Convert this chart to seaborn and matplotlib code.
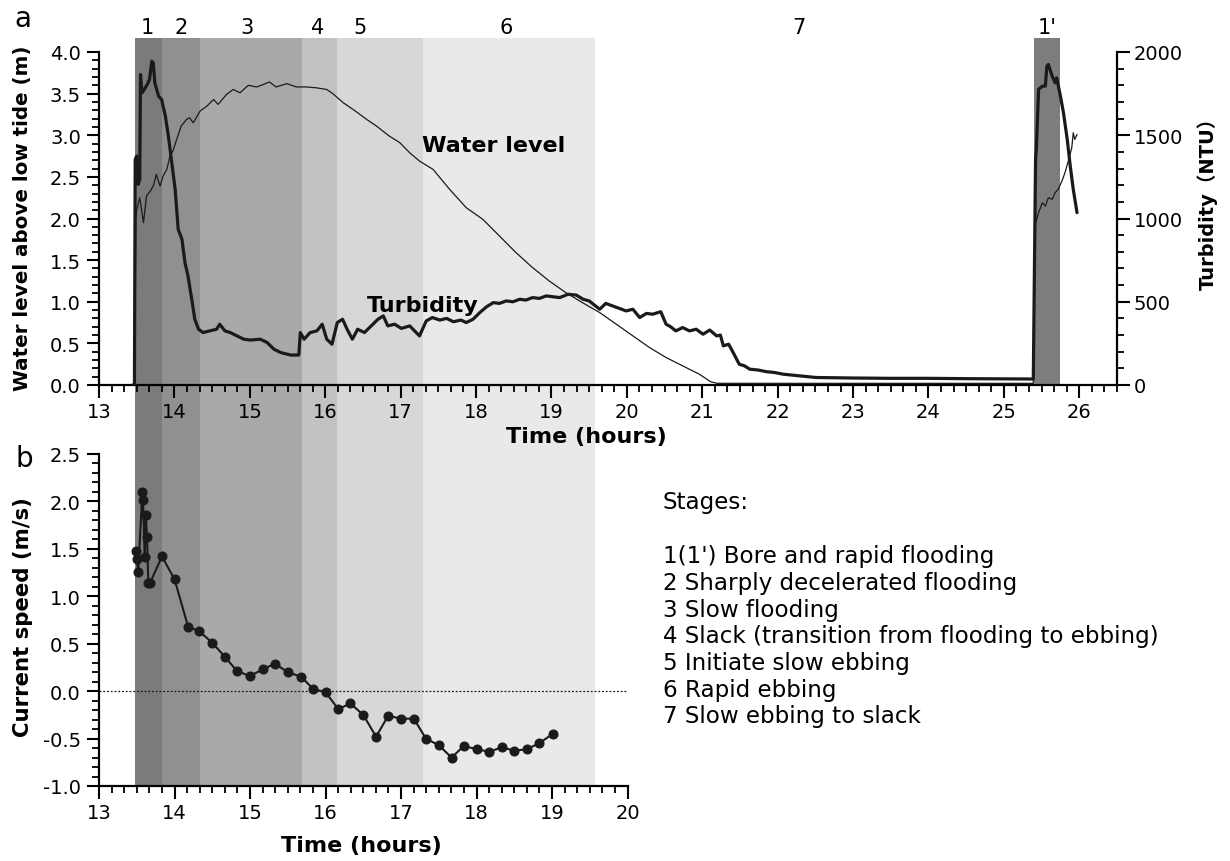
import matplotlib
matplotlib.use("Agg")
import matplotlib.pyplot as plt
import matplotlib.transforms as mtrans
from matplotlib.ticker import MultipleLocator
import pandas as pd
import seaborn as sns

# ---------------- data ----------------
# Water level above low tide (m)
water_t = [13.45, 13.47, 13.49, 13.50, 13.54, 13.59, 13.63, 13.68, 13.72, 13.76, 13.81, 13.85,
           13.90, 13.94, 13.98, 14.03, 14.09, 14.16, 14.20, 14.25, 14.34, 14.43, 14.52, 14.58,
           14.69, 14.78, 14.87, 14.98, 15.09, 15.18, 15.26, 15.35, 15.49, 15.62, 15.75, 15.88,
           16.02, 16.10, 16.24, 16.37, 16.55, 16.68, 16.85, 16.99, 17.12, 17.25, 17.43, 17.65,
           17.87, 18.09, 18.31, 18.53, 18.75, 18.97, 19.19, 19.41, 19.64, 19.86, 20.08, 20.30,
           20.52, 20.74, 20.96, 21.11, 21.20, 22.00, 23.00, 24.00, 25.00, 25.39, 25.41, 25.46,
           25.51, 25.55, 25.59, 25.64, 25.68, 25.72, 25.77, 25.81, 25.86, 25.90, 25.92, 25.94,
           25.97]
water_m = [0.00, 0.00, 1.99, 2.10, 2.25, 1.95, 2.27, 2.33, 2.39, 2.53, 2.39, 2.51,
           2.59, 2.75, 2.81, 2.95, 3.11, 3.19, 3.21, 3.15, 3.29, 3.35, 3.43, 3.37,
           3.49, 3.55, 3.51, 3.60, 3.58, 3.61, 3.64, 3.58, 3.62, 3.58, 3.58, 3.57,
           3.55, 3.50, 3.39, 3.31, 3.19, 3.11, 2.99, 2.91, 2.79, 2.69, 2.59, 2.35,
           2.13, 1.99, 1.79, 1.59, 1.41, 1.25, 1.11, 0.99, 0.87, 0.73, 0.59, 0.45,
           0.33, 0.23, 0.13, 0.04, 0.02, 0.02, 0.02, 0.02, 0.02, 0.02, 1.91, 2.07,
           2.19, 2.15, 2.25, 2.23, 2.31, 2.35, 2.45, 2.55, 2.71, 2.85, 3.03, 2.95,
           3.01]

# Turbidity (NTU)
turb_t = [13.45, 13.47, 13.48, 13.50, 13.52, 13.54, 13.55, 13.57, 13.60, 13.64, 13.67, 13.70,
          13.72, 13.74, 13.79, 13.83, 13.88, 13.92, 13.96, 14.01, 14.05, 14.10, 14.14, 14.18,
          14.23, 14.27, 14.32, 14.38, 14.47, 14.56, 14.60, 14.67, 14.74, 14.83, 14.92, 15.01,
          15.14, 15.23, 15.32, 15.41, 15.54, 15.65, 15.67, 15.72, 15.80, 15.89, 15.96, 16.02,
          16.09, 16.16, 16.23, 16.29, 16.36, 16.43, 16.52, 16.61, 16.70, 16.77, 16.83, 16.92,
          17.01, 17.12, 17.25, 17.34, 17.42, 17.52, 17.61, 17.70, 17.80, 17.87, 17.96, 18.05,
          18.14, 18.23, 18.31, 18.40, 18.49, 18.58, 18.66, 18.75, 18.84, 18.93, 19.02, 19.11,
          19.22, 19.33, 19.42, 19.50, 19.57, 19.64, 19.72, 19.81, 19.90, 19.99, 20.08, 20.17,
          20.26, 20.34, 20.45, 20.52, 20.58, 20.65, 20.74, 20.83, 20.92, 21.01, 21.10, 21.19,
          21.24, 21.28, 21.35, 21.41, 21.49, 21.56, 21.63, 21.74, 21.85, 21.96, 22.07, 22.18,
          22.29, 22.40, 22.51, 23.00, 23.50, 24.00, 24.50, 25.00, 25.39, 25.42, 25.43,
          25.46, 25.51, 25.55, 25.57, 25.59, 25.64, 25.68, 25.70, 25.75, 25.79, 25.84, 25.88,
          25.92, 25.97]
turb_ntu = [0, 0, 1355, 1375, 1205, 1235, 1865, 1755, 1775, 1805, 1835, 1945,
            1935, 1815, 1735, 1715, 1615, 1495, 1355, 1175, 935, 875, 735, 655,
            515, 395, 335, 315, 325, 335, 365, 325, 315, 295, 275, 270,
            275, 255, 215, 195, 180, 180, 315, 275, 315, 325, 365, 275,
            245, 375, 395, 335, 275, 335, 315, 355, 395, 415, 355, 365,
            340, 355, 295, 385, 405, 390, 400, 380, 390, 375, 395, 435,
            470, 495, 490, 505, 500, 515, 510, 525, 520, 535, 530, 525,
            545, 540, 515, 505, 480, 455, 490, 475, 460, 445, 455, 405,
            430, 425, 440, 365, 350, 325, 345, 325, 335, 305, 330, 295,
            300, 235, 245, 195, 125, 115, 95, 90, 80, 75, 65, 60,
            55, 50, 45, 42, 40, 40, 38, 37, 36, 1360, 1415,
            1775, 1795, 1795, 1915, 1925, 1855, 1815, 1845, 1735, 1635, 1475, 1315,
            1175, 1035]

# Current speed (m/s)
speed_t = [13.486, 13.499, 13.52, 13.574, 13.583, 13.605, 13.62, 13.636, 13.653, 13.675,
           13.834, 14.00, 14.18, 14.33, 14.50, 14.67, 14.83, 15.00, 15.17, 15.33, 15.50,
           15.68, 15.84, 16.00, 16.17, 16.33, 16.50, 16.67, 16.83, 17.00, 17.17, 17.33,
           17.50, 17.67, 17.83, 18.00, 18.17, 18.34, 18.50, 18.67, 18.83, 19.01]
speed_v = [1.48, 1.39, 1.26, 2.10, 2.02, 1.41, 1.86, 1.63, 1.14, 1.14,
           1.42, 1.18, 0.68, 0.63, 0.51, 0.36, 0.21, 0.16, 0.23, 0.29, 0.20,
           0.15, 0.02, -0.01, -0.19, -0.13, -0.25, -0.48, -0.26, -0.29, -0.29, -0.50,
           -0.57, -0.70, -0.58, -0.61, -0.64, -0.59, -0.63, -0.61, -0.55, -0.45]

# Stages
stage_start = [13.48, 13.84, 14.34, 15.69, 16.16, 17.30]
stage_end = [13.84, 14.34, 15.69, 16.16, 17.30, 19.58]
stage_colors = ["#7b7b7b", "#909090", "#a9a9a9", "#c2c2c2", "#d7d7d7", "#e9e9e9"]
stage1p = (25.40, 25.75)
stage_label_text = ["1", "2", "3", "4", "5", "6", "7", "1'"]
stage_label_x = [13.64, 14.09, 14.96, 15.90, 16.46, 18.40, 22.28, 25.57]

legend_lines = ["Stages:", "1(1') Bore and rapid flooding", "2 Sharply decelerated flooding",
                "3 Slow flooding", "4 Slack (transition from flooding to ebbing)",
                "5 Initiate slow ebbing", "6 Rapid ebbing", "7 Slow ebbing to slack"]

# ---------------- style ----------------
sns.set_theme(style="ticks")
plt.rcParams['font.family'] = ['DejaVu Sans', 'Noto Sans CJK SC']
plt.rcParams['axes.unicode_minus'] = False
plt.rcParams['text.color'] = 'black'
plt.rcParams['axes.labelcolor'] = 'black'
plt.rcParams['xtick.color'] = 'black'
plt.rcParams['ytick.color'] = 'black'

W, H = 1230, 862
fig = plt.figure(figsize=(12.3, 8.62), dpi=100)
fig.patch.set_facecolor("white")


def fx(px):
    return px / W


def fy(py):
    return 1 - py / H


LC = "#1a1a1a"

# background shading axes spanning both panels
ax_bg = fig.add_axes([fx(99), fy(787), (1117 - 99) / W, (787 - 39) / H], zorder=0)
ax_bg.set_xlim(13, 26.5)
ax_bg.set_ylim(0, 1)
ax_bg.axis("off")
for s, e, c in zip(stage_start, stage_end, stage_colors):
    ax_bg.axvspan(s, e, ymin=0, ymax=1, color=c, lw=0)
ax_bg.axvspan(stage1p[0], stage1p[1], ymin=(787 - 386) / (787 - 39), ymax=1,
              color="#7d7d7d", lw=0)

tr = mtrans.blended_transform_factory(ax_bg.transData, fig.transFigure)
for txt, xv in zip(stage_label_text, stage_label_x):
    fig.text(xv, fy(28), txt, transform=tr, ha="center", va="center", fontsize=15, color="black")

# ---------------- top panel ----------------
ax = fig.add_axes([fx(99), fy(386), (1117 - 99) / W, (386 - 53) / H], zorder=1)
ax.patch.set_alpha(0)
sns.lineplot(x=water_t, y=water_m, ax=ax, color=LC, linewidth=0.9, estimator=None, sort=False)
ax.set_xlim(13, 26.5)
ax.set_ylim(0, 4)
ax.xaxis.set_major_locator(MultipleLocator(1))
ax.xaxis.set_minor_locator(MultipleLocator(1 / 6))
ax.yaxis.set_major_locator(MultipleLocator(0.5))
ax.yaxis.set_minor_locator(MultipleLocator(0.1))
ax.set_xlabel("")
ax.set_ylabel("")
for sp in ["top", "right"]:
    ax.spines[sp].set_visible(False)

ax2 = ax.twinx()
ax2.set_zorder(2)
ax2.patch.set_visible(False)
sns.lineplot(x=turb_t, y=turb_ntu, ax=ax2, color=LC, linewidth=2.3, estimator=None, sort=False)
ax2.set_ylim(0, 2000)
ax2.yaxis.set_major_locator(MultipleLocator(500))
ax2.yaxis.set_minor_locator(MultipleLocator(100))
ax2.set_ylabel("")
for sp in ["top", "left", "bottom"]:
    ax2.spines[sp].set_visible(False)

ax.text(17.28, 2.88, "Water level", fontsize=16, fontweight="bold", ha="left", va="center",
        color="black")
ax.text(16.55, 0.96, "Turbidity", fontsize=16, fontweight="bold", ha="left", va="center",
        color="black")

# ---------------- bottom panel ----------------
axb = fig.add_axes([fx(99), fy(787), (627.5 - 99) / W, (787 - 455) / H], zorder=1)
axb.patch.set_alpha(0)
axb.axhline(0, color=LC, lw=0.9, ls=(0, (1.5, 1.5)), zorder=1)
sns.lineplot(x=speed_t, y=speed_v, ax=axb, color=LC, linewidth=1.5, marker="o",
             markersize=6.5, markeredgecolor=LC, markerfacecolor=LC,
             estimator=None, sort=False, zorder=3)
axb.set_xlim(13, 20)
axb.set_ylim(-1, 2.5)
axb.xaxis.set_major_locator(MultipleLocator(1))
axb.xaxis.set_minor_locator(MultipleLocator(1 / 6))
axb.yaxis.set_major_locator(MultipleLocator(0.5))
axb.yaxis.set_minor_locator(MultipleLocator(0.1))
axb.set_xlabel("")
axb.set_ylabel("")
for sp in ["top", "right"]:
    axb.spines[sp].set_visible(False)

# common axis styling
for a in [ax, ax2, axb]:
    for sp in a.spines.values():
        sp.set_linewidth(1.6)
        sp.set_color("black")
    a.tick_params(which="major", direction="out", length=9, width=1.5, labelsize=14,
                  color="black", labelcolor="black", pad=3)
    a.tick_params(which="minor", direction="out", length=5, width=1.3, color="black")
for a in [ax, axb]:
    a.tick_params(axis="y", which="major", pad=4)

# ---------------- text labels ----------------
fig.text(fx(23), fy(218), "Water level above low tide (m)", rotation=90, ha="center",
         va="center", fontsize=14.3, fontweight="bold", color="black")
fig.text(fx(1208), fy(199), "Turbidity（NTU）", rotation=90, ha="center", va="center",
         fontsize=14, fontweight="bold", family=["DejaVu Sans", "Noto Sans CJK SC"],
         color="black")
fig.text(fx(586), fy(437), "Time (hours)", ha="center", va="center", fontsize=16,
         fontweight="bold", color="black")
fig.text(fx(23), fy(617), "Current speed (m/s)", rotation=90, ha="center", va="center",
         fontsize=15.3, fontweight="bold", color="black")
fig.text(fx(361), fy(846), "Time (hours)", ha="center", va="center", fontsize=16,
         fontweight="bold", color="black")
fig.text(fx(23), fy(27), "a", ha="center", va="baseline", fontsize=20, color="black")
fig.text(fx(24), fy(467), "b", ha="center", va="baseline", fontsize=20, color="black")

legend_baselines = [509, 563, 590, 617, 643, 670, 697, 723]
for txt, b in zip(legend_lines, legend_baselines):
    fig.text(fx(663), fy(b), txt, ha="left", va="baseline", fontsize=16.6, color="black")

fig.savefig("out.png", dpi=100, facecolor="white")
